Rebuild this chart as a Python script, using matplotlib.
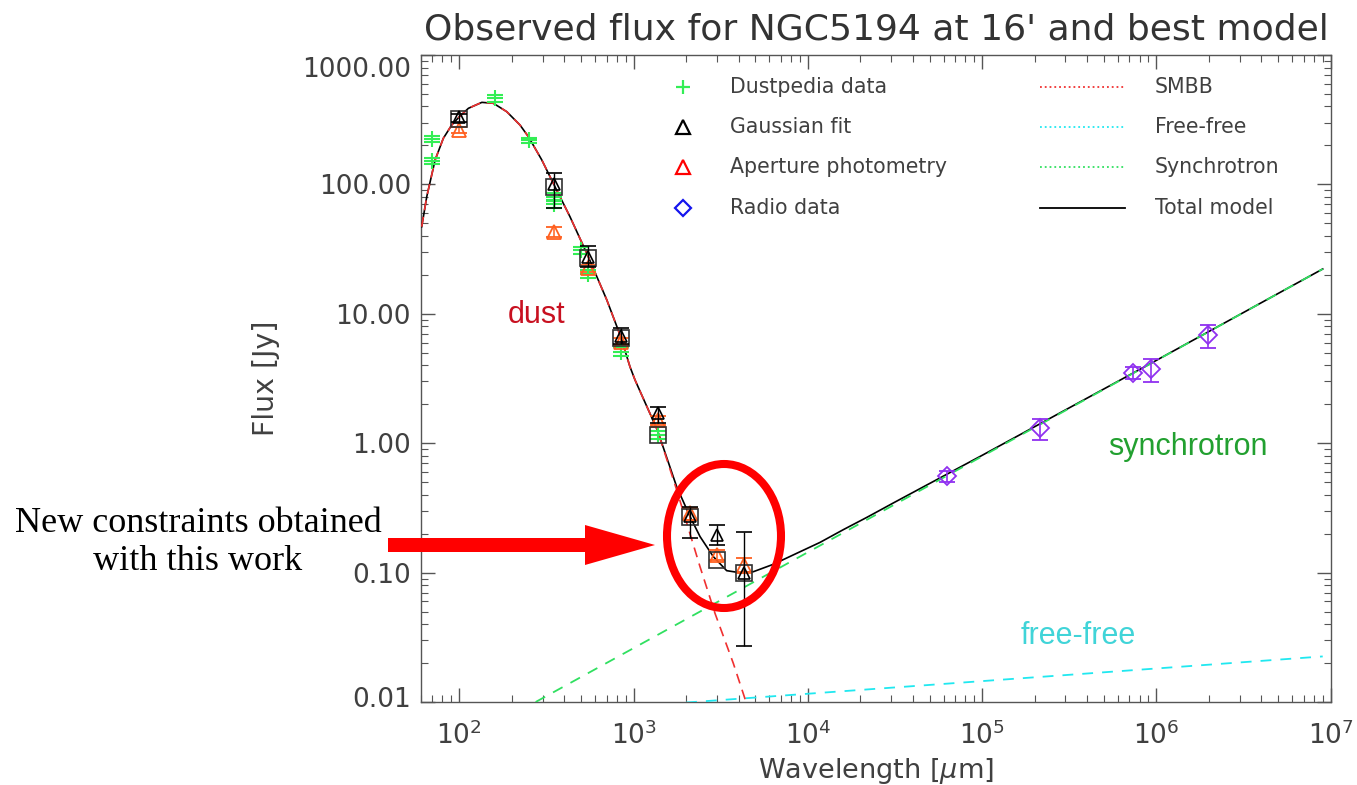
import matplotlib
matplotlib.use("Agg")
import matplotlib.pyplot as plt
import matplotlib.transforms as mtransforms
from matplotlib.patches import Ellipse, FancyArrow
from matplotlib.lines import Line2D

# --- model curves (wavelength in um, flux in Jy) ---
dust_wl = [60.8, 65.0, 72.6, 80.9, 90.4, 100, 112.7, 134.6, 156.7, 187.0, 222.8,
           248.9, 297.2, 345.9, 431.5, 549.5, 701.5, 843.3, 952.8, 1018.6, 1367.7,
           1766, 2404, 2931, 3733, 4416]
dust_flux = [47.1, 80.4, 154.5, 227, 287.7, 333.4, 387.3, 430.5, 423.6, 364.8, 287.7,
             233.9, 154.5, 101.9, 56.2, 27.6, 12.8, 6.65, 3.90, 3.08, 1.265,
             0.436, 0.111, 0.0484, 0.0199, 0.0100]

total_wl = dust_wl[:21] + [1766, 2109, 2404, 2864, 3420, 4074, 4864, 6324, 8630,
                           11722, 16000, 22000, 31623, 1e5, 1e6, 9e6]
total_flux = dust_flux[:21] + [0.461, 0.270, 0.190, 0.133, 0.1035, 0.0998, 0.1016,
                               0.1158, 0.1410, 0.171, 0.215, 0.269, 0.351, 0.806,
                               4.37, 22.2]

sync_wl = [274, 9e6]
sync_flux = [0.01, 22.2]
ff_wl = [2000, 9e6]
ff_flux = [0.0099, 0.0225]

# --- observations ---
dp_wl = [70, 70, 160, 250, 350, 350, 500, 550, 850, 1380]
dp_flux = [223, 152, 463, 220, 80, 71, 31, 20.3, 5.1, 1.16]
dp_err = [12, 8, 30, 10, 6, 5, 2, 1.5, 0.4, 0.08]

pl_wl = [100, 350, 550, 850, 1380, 2100, 3000, 4300]
sq_flux = [318, 96, 26.9, 6.5, 1.16, 0.270, 0.125, 0.0986]
g_flux = [333, 100, 27.5, 6.7, 1.70, 0.275, 0.195, 0.100]
g_err_lo = [30, 34, 4.5, 0.9, 0.26, 0.091, 0.032, 0.073]
g_err_hi = [20, 22, 5.9, 1.0, 0.22, 0.045, 0.038, 0.107]
ap_flux = [263, 43, 22.5, 6.1, 1.51, 0.287, 0.137, 0.1146]
ap_err = [15, 4, 1.5, 0.4, 0.12, 0.03, 0.012, 0.015]

rd_wl = [62500, 215000, 736000, 927000, 1.98e6]
rd_flux = [0.558, 1.30, 3.51, 3.74, 6.86]
rd_err = [0.055, 0.25, 0.36, 0.77, 1.4]

ytick_vals = [0.01, 0.1, 1, 10, 100, 1000]
xtick_vals = [1e2, 1e3, 1e4, 1e5, 1e6, 1e7]

W, H = 1357, 785
TXT = "#404040"
GREEN_PTS = "#33ee55"
ORANGE = "#ff6020"
PURPLE = "#9030f0"

fig = plt.figure(figsize=(W / 100, H / 100), dpi=100)
ax = fig.add_axes([420.7 / W, 1 - 702 / H, 910 / W, 647 / H])

# models
ax.plot(total_wl, total_flux, color="black", lw=1.2, zorder=3)
ax.plot(sync_wl, sync_flux, color="#30e060", lw=1.3, ls=(0, (6, 5)), zorder=4)
ax.plot(ff_wl, ff_flux, color="#20e8f0", lw=1.3, ls=(0, (6, 5)), zorder=4)
ax.plot(dust_wl, dust_flux, color="#f03030", lw=1.2, ls=(0, (6, 4)), zorder=4)

# data
ax.errorbar(dp_wl, dp_flux, yerr=dp_err, fmt="+", color=GREEN_PTS, ms=11, mew=1.5,
            capsize=6, elinewidth=1.2, zorder=5)
ax.errorbar(pl_wl, ap_flux, yerr=ap_err, fmt="^", color=ORANGE, mfc="none", ms=10,
            mew=1.3, capsize=6, elinewidth=1.1, zorder=5)
ax.plot(pl_wl, sq_flux, "s", color="#303030", mfc="none", ms=11.5, mew=1.2, zorder=6)
ax.errorbar(pl_wl, g_flux, yerr=[g_err_lo, g_err_hi], fmt="^", color="black",
            mfc="none", ms=9, mew=1.2, capsize=6, elinewidth=1.0, zorder=6)
ax.errorbar(rd_wl, rd_flux, yerr=rd_err, fmt="D", color=PURPLE, mfc="none", ms=9,
            mew=1.3, capsize=6, elinewidth=1.2, zorder=5)

ax.set_xscale("log"); ax.set_yscale("log")
ax.set_xlim(60, 1e7); ax.set_ylim(0.01, 1000)
ax.set_yticks(ytick_vals)
ax.set_yticklabels([f"{v:.2f}" for v in ytick_vals])
ax.set_xticks(xtick_vals)
ax.set_xticklabels([f"$10^{{{k}}}$" for k in range(2, 8)])
ax.tick_params(which="both", direction="in", top=True, right=True, color="#555555",
               labelcolor=TXT)
ax.tick_params(axis="y", which="major", length=10, width=1, pad=7, labelsize=19)
ax.tick_params(axis="x", which="major", length=10, width=1, pad=14, labelsize=19)
ax.tick_params(which="minor", length=5, width=0.8)
for s in ax.spines.values():
    s.set_color("#555555"); s.set_linewidth(1.0)

# edge labels sit a little inside the axis range, as in the original
ylabs = ax.get_yticklabels()
for lab, dy in [(ylabs[0], 5), (ylabs[-1], -12)]:
    lab.set_transform(lab.get_transform()
                      + mtransforms.ScaledTranslation(0, dy / 100, fig.dpi_scale_trans))

ax.set_xlabel("Wavelength [$\\mu$m]", fontsize=19.5, color=TXT)
ax.xaxis.set_label_coords(0.5, -0.083)
ax.set_ylabel("Flux [Jy]", fontsize=20.5, color=TXT)
ax.yaxis.set_label_coords(-0.155, 0.5)

# legend drawn by hand, two columns
rows = [0.9505, 0.8887, 0.8269, 0.7635]
left_items = [("+", GREEN_PTS, "Dustpedia data"), ("^", "black", "Gaussian fit"),
              ("^", "red", "Aperture photometry"), ("D", "#1515ee", "Radio data")]
right_items = [("#f03030", ":", "SMBB"), ("#20e8f0", ":", "Free-free"),
               ("#30e060", ":", "Synchrotron"), ("black", "-", "Total model")]
for y, (m, c, lab) in zip(rows, left_items):
    ax.plot([0.288], [y], m, color=c, mfc="none", ms=10 if m != "D" else 8,
            mew=1.6, transform=ax.transAxes, clip_on=False)
    ax.text(0.340, y, lab, transform=ax.transAxes, fontsize=14.8, color=TXT,
            va="center", ha="left")
for y, (c, ls, lab) in zip(rows, right_items):
    ax.add_line(Line2D([0.6806, 0.7740], [y, y], color=c, ls=ls, lw=1.3,
                       transform=ax.transAxes))
    ax.text(0.8070, y, lab, transform=ax.transAxes, fontsize=14.8, color=TXT,
            va="center", ha="left")

# component labels
def fx(px): return (px - 420.7) / 910
def fy(py): return (702 - py) / 647
ax.text(fx(537), fy(315), "dust", transform=ax.transAxes, fontsize=22,
        color="#c81020", ha="center", va="center", family="Liberation Sans")
ax.text(fx(1188), fy(447), "synchrotron", transform=ax.transAxes, fontsize=22,
        color="#22a030", ha="center", va="center", family="Liberation Sans")
ax.text(fx(1078), fy(636), "free-free", transform=ax.transAxes, fontsize=22,
        color="#40d4d8", ha="center", va="center", family="Liberation Sans")

fig.text(876 / W, 1 - 29 / H, "Observed flux for NGC5194 at 16' and best model",
         ha="center", va="center", fontsize=26, color="#333333")

# annotation: two text lines, arrow and circle
for line, py in [("New constraints obtained", 524), ("with this work", 562)]:
    fig.text(198 / W, 1 - py / H, line, ha="center", va="center", fontsize=26,
             family="Liberation Serif", color="black")
fig.add_artist(FancyArrow(388 / W, 1 - 545 / H, (655 - 388) / W, 0, width=14 / H,
                          head_width=40 / H, head_length=70 / W,
                          length_includes_head=True, color="red", lw=0,
                          transform=fig.transFigure))
fig.add_artist(Ellipse((724 / W, 1 - 536 / H), 114 / W, 144 / H, fill=False,
                       ec="red", lw=5.8, transform=fig.transFigure, zorder=10))

fig.savefig("out.png", dpi=100)
